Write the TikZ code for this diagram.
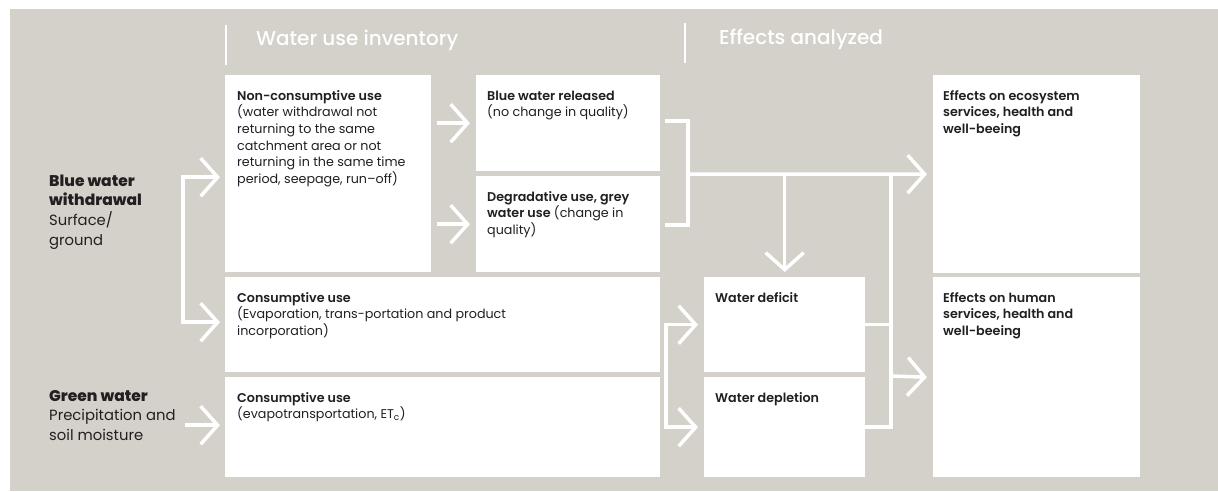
\documentclass[tikz,border=0pt]{standalone}
\usepackage{fontspec}
\setmainfont{Poppins}
\newfontfamily\semifont{Poppins SemiBold}
\newfontfamily\heavyfont{Poppins ExtraBold}
\newfontfamily\medfont{Poppins Medium}
\usetikzlibrary{arrows.meta}
\definecolor{bg}{HTML}{D4D1CA}
\definecolor{ink}{HTML}{231F20}
\newcommand{\hd}[1]{{\semifont #1}}
\newcommand{\lines}[1]{\begin{tabular}[t]{@{}l@{}}#1\end{tabular}}
\tikzset{
  box/.style={rectangle, fill=white, draw=none, inner sep=0pt, anchor=north west},
  txt/.style={anchor=base west, inner sep=0pt, text=ink, font=\fontsize{12.7}{16.7}\selectfont},
  side/.style={anchor=base west, inner sep=0pt, text=ink, font=\fontsize{14.8}{19.7}\selectfont},
  head/.style={anchor=base west, inner sep=0pt, text=white, font=\medfont\fontsize{20}{24}\selectfont},
  wline/.style={draw=white, line width=3.5pt},
  arr/.style={wline, -{Straight Barb[length=17pt,width=38pt]}},
  arrtwo/.style={wline, {Straight Barb[length=17pt,width=38pt]}-{Straight Barb[length=17pt,width=38pt]}},
  sepline/.style={draw=white, line width=1.5pt}
}
\begin{document}
\begin{tikzpicture}[x=1pt,y=-1pt]
\useasboundingbox (0,0) rectangle (1218,491);
\fill[white] (0,0) rectangle (1218,491);
\fill[bg] (10,9) rectangle (1218,491);

% headers
\draw[sepline] (226,25) -- (226,65);
\draw[sepline] (685,23) -- (685,63);
\node[head] (h1) at (256,45) {Water use inventory};
\node[head] (h2) at (719,44) {Effects analyzed};

% boxes
\node[box, minimum width=206pt, minimum height=197pt] (nc) at (225,75) {};
\node[box, minimum width=184pt, minimum height=96pt] (bwr) at (476,75) {};
\node[box, minimum width=184pt, minimum height=96pt] (deg) at (476,176) {};
\node[box, minimum width=435pt, minimum height=95pt] (cu1) at (225,277) {};
\node[box, minimum width=435pt, minimum height=100pt] (cu2) at (225,377) {};
\node[box, minimum width=161pt, minimum height=95pt] (wdef) at (704,277) {};
\node[box, minimum width=161pt, minimum height=100pt] (wdep) at (704,377) {};
\node[box, minimum width=207pt, minimum height=198pt] (eco) at (933,75) {};
\node[box, minimum width=207pt, minimum height=200pt] (hum) at (933,277) {};

% box texts
\node[txt] (nct) at ([xshift=12pt,yshift=-25pt]nc.north west)
  {\lines{\hd{Non-consumptive use}\\(water withdrawal not\\returning to the same\\catchment area or not\\returning in the same time\\period, seepage, run--off)}};
\node[txt] (bwrt) at ([xshift=11pt,yshift=-25pt]bwr.north west)
  {\lines{\hd{Blue water released}\\(no change in quality)}};
\node[txt] (degt) at ([xshift=11pt,yshift=-25pt]deg.north west)
  {\lines{\hd{Degradative use, grey}\\\hd{water use} (change in\\quality)}};
\node[txt] (cu1t) at ([xshift=12pt,yshift=-25pt]cu1.north west)
  {\lines{\hd{Consumptive use}\\(Evaporation, trans-portation and product\\incorporation)}};
\node[txt] (cu2t) at ([xshift=12pt,yshift=-25pt]cu2.north west)
  {\lines{\hd{Consumptive use}\\(evapotransportation, ET\textsubscript{c})}};
\node[txt] (wdeft) at ([xshift=11pt,yshift=-25pt]wdef.north west)
  {\hd{Water deficit}};
\node[txt] (wdept) at ([xshift=11pt,yshift=-25pt]wdep.north west)
  {\hd{Water depletion}};
\node[txt] (ecot) at ([xshift=10pt,yshift=-25pt]eco.north west)
  {\lines{\hd{Effects on ecosystem}\\\hd{services, health and}\\\hd{well-beeing}}};
\node[txt] (humt) at ([xshift=10pt,yshift=-25pt]hum.north west)
  {\lines{\hd{Effects on human}\\\hd{services, health and}\\\hd{well-beeing}}};

% side labels
\node[side] (blue) at (49,186)
  {\lines{{\heavyfont\fontsize{15.5}{19.7}\selectfont Blue water}\\{\heavyfont\fontsize{15.5}{19.7}\selectfont withdrawal}\\Surface/\\ground}};
\node[side] (green) at (49,401)
  {\lines{{\heavyfont\fontsize{15.5}{19.7}\selectfont Green water}\\Precipitation and\\soil moisture}};

% connectors
\coordinate (bl) at (183,250);
\draw[arrtwo] ([xshift=-5pt,yshift=-3.5pt]nc.west) -| (bl) |- ([xshift=-5pt,yshift=2.5pt]cu1.west);
\draw[arr] ([xshift=-40pt,yshift=2pt]cu2.west) -- ([xshift=-5pt,yshift=2pt]cu2.west);

\draw[arr] ([xshift=6pt]nc.east |- bwr.west) -- ([xshift=-6pt]bwr.west);
\draw[arr] ([xshift=6pt]nc.east |- deg.west) -- ([xshift=-6pt]deg.west);

\coordinate (bj) at (688,174);
\draw[wline] ([xshift=5pt,yshift=2pt]bwr.east) -| (bj) |- ([xshift=5pt,yshift=-1pt]deg.east);
\draw[arr] (bj) -- ([xshift=-6pt]eco.west);
\draw[arr] (bj -| wdef.north) -- ([yshift=5pt]wdef.north);

\coordinate (rj) at (891,376);
\draw[wline] (bj -| rj) -- (rj |- wdep.east) -- (wdep.east);
\draw[wline] (wdef.east) -- (wdef.east -| rj);
\draw[arr] (rj) -- ([xshift=-6pt]hum.west);

\coordinate (lj) at (666,376);
\draw[arrtwo] ([xshift=-6pt]wdef.west) -| (lj) |- ([xshift=-6pt]wdep.west);
\end{tikzpicture}
\end{document}
